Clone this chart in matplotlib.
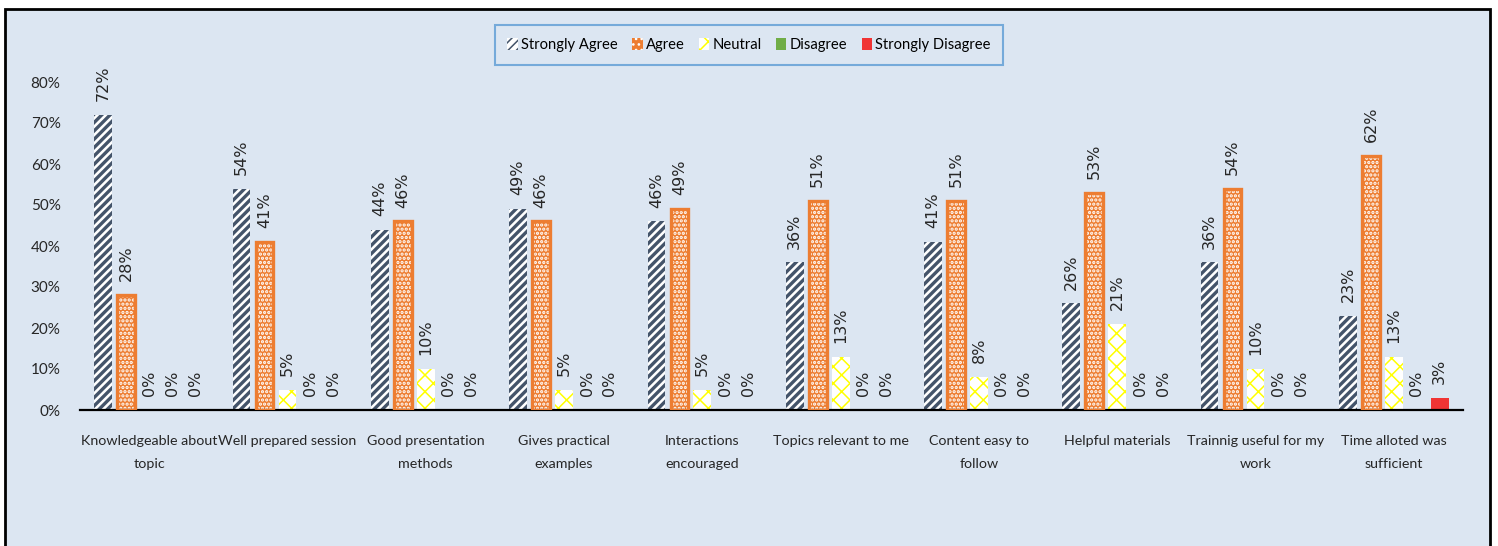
import matplotlib
matplotlib.use("Agg")
import matplotlib.pyplot as plt
import numpy as np
from matplotlib.patches import Rectangle, Patch
from matplotlib.ticker import PercentFormatter

categories = [
    "Knowledgeable about\ntopic",
    "Well prepared session",
    "Good presentation\nmethods",
    "Gives practical\nexamples",
    "Interactions\nencouraged",
    "Topics relevant to me",
    "Content easy to\nfollow",
    "Helpful materials",
    "Trainnig useful for my\nwork",
    "Time alloted was\nsufficient",
]
strongly_agree = [72, 54, 44, 49, 46, 36, 41, 26, 36, 23]
agree = [28, 41, 46, 46, 49, 51, 51, 53, 54, 62]
neutral = [0, 5, 10, 5, 5, 13, 8, 21, 10, 13]
disagree = [0, 0, 0, 0, 0, 0, 0, 0, 0, 0]
strongly_disagree = [0, 0, 0, 0, 0, 0, 0, 0, 0, 3]
series_names = ["Strongly Agree", "Agree", "Neutral", "Disagree", "Strongly Disagree"]
yticks = [0, 10, 20, 30, 40, 50, 60, 70, 80]

BG = "#DCE6F2"
NARROW = ["Lato", "DejaVu Sans"]
TXT = "#262626"

fig = plt.figure(figsize=(14.98, 5.46), dpi=100)
fig.patch.set_facecolor("white")
# framed background panel behind everything
frame = Rectangle((5 / 1498, -0.05), (1490 - 5) / 1498, 1.05 - 9 / 546,
                  transform=fig.transFigure, facecolor=BG,
                  edgecolor="black", linewidth=2, zorder=-10)
fig.patches.append(frame)

ax = fig.add_axes([80 / 1498, 136 / 546, (1463 - 80) / 1498, (410 - 82) / 546])
ax.set_facecolor("none")
ax.set_zorder(1)

x = np.arange(len(categories))
step = 0.166
w = 0.128
series = [strongly_agree, agree, neutral, disagree, strongly_disagree]
offsets = [(i - 2) * step for i in range(5)]

def pct(v):
    return [val / 100 for val in v]

# Strongly Agree: white with dark diagonal stripes
plt.rcParams["hatch.linewidth"] = 2.4
ax.bar(x + offsets[0], pct(strongly_agree), w, facecolor="white",
       edgecolor="#44546A", hatch="////", linewidth=0, zorder=2)
h_sa = Patch(facecolor="white", edgecolor="#44546A", hatch="////", linewidth=0)
# Agree: orange with small white dots and orange outline
plt.rcParams["hatch.linewidth"] = 1.6
ax.bar(x + offsets[1], pct(agree), w, facecolor="#ED7D31",
       edgecolor="white", hatch="....", linewidth=0, zorder=2)
h_ag = Patch(facecolor="#ED7D31", edgecolor="white", hatch="...", linewidth=0)
ax.bar(x + offsets[1], pct(agree), w, fill=False,
       edgecolor="#ED7D31", linewidth=2.4, zorder=3)
# Neutral: white with thin yellow lattice
plt.rcParams["hatch.linewidth"] = 1.1
ax.bar(x + offsets[2], pct(neutral), w, facecolor="white",
       edgecolor="#FFFF00", hatch="xx", linewidth=0, zorder=2)
h_ne = Patch(facecolor="white", edgecolor="#FFFF00", hatch="xx", linewidth=0)
ax.bar(x + offsets[3], pct(disagree), w, color="#70AD47", zorder=2)
ax.bar(x + offsets[4], pct(strongly_disagree), w, color="#F03434", zorder=2)

for vals, off in zip(series, offsets):
    for xi, v in zip(x, vals):
        ax.annotate(f"{v}%", (xi + off, v / 100), xytext=(0, 10),
                    textcoords="offset points", rotation=90,
                    ha="center", va="bottom", fontsize=11.5, color=TXT,
                    annotation_clip=False, zorder=4)

ax.set_xlim(-0.5, len(categories) - 0.5)
ax.set_ylim(0, 0.8)
ax.set_yticks([t / 100 for t in yticks])
ax.yaxis.set_major_formatter(PercentFormatter(1.0, decimals=0))
ax.set_xticks(x)
ax.set_xticklabels(categories, family=NARROW, fontsize=10.3, color=TXT,
                   linespacing=2.1)
for lab in ax.get_yticklabels():
    lab.set_family(NARROW)
    lab.set_fontsize(11)
    lab.set_color(TXT)
ax.tick_params(axis="both", length=0)
ax.tick_params(axis="y", pad=14)
ax.tick_params(axis="x", pad=18)
for s in ["top", "right", "left"]:
    ax.spines[s].set_visible(False)
ax.spines["bottom"].set_linewidth(1.6)
ax.spines["bottom"].set_color("black")

handles = [h_sa, h_ag, h_ne, Patch(facecolor="#70AD47"), Patch(facecolor="#F03434")]
leg = fig.legend(handles, series_names, loc="center",
                 bbox_to_anchor=(749 / 1498, 1 - 45 / 546), ncol=5,
                 frameon=True, fancybox=False, handlelength=0.7,
                 handleheight=0.9, handletextpad=0.2, columnspacing=1.0,
                 prop={"family": NARROW, "size": 10.6}, borderpad=0.85)
leg.get_frame().set_edgecolor("#5B9BD5")
leg.get_frame().set_linewidth(1.5)
leg.get_frame().set_facecolor(BG)

fig.savefig("out.png", dpi=100, facecolor=fig.get_facecolor())
